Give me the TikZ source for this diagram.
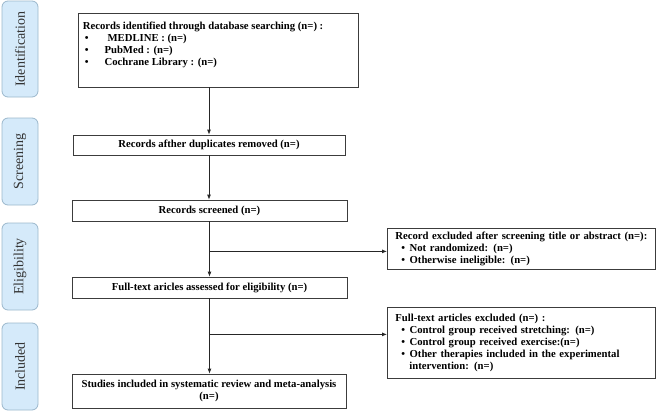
\documentclass[tikz,border=0pt]{standalone}
\usepackage{fontspec}
\setmainfont{Liberation Serif}
\usepackage{xcolor}
\usetikzlibrary{arrows.meta,positioning,calc}
\definecolor{phasefill}{HTML}{D5EAFA}
\definecolor{phasedraw}{HTML}{9BB7CC}
\definecolor{boxline}{HTML}{3C3C3C}
\newcommand{\pbul}{\hspace*{2pt}\textbullet\hspace{16pt}}
\newcommand{\xbul}{\hspace*{6pt}\textbullet\hspace{4.5pt}}

\begin{document}
\begin{tikzpicture}[x=1pt, y=-1pt,
        every node/.style={font=\fontsize{10.7}{12}\selectfont\bfseries},
        phase/.style={draw=phasedraw, fill=phasefill, rounded corners=6pt, rotate=90,
              minimum height=36pt, line width=0.8pt, text=black!80,
              font=\fontsize{14}{16}\selectfont},
        box/.style={draw=boxline, line width=0.8pt},
        arr/.style={-{Latex[length=5pt,width=4pt]}, line width=0.8pt, draw=black!85}]
        \useasboundingbox (0,0) rectangle (657,415);
        % phase labels
        \node[phase, minimum width=96pt] (lbident) at (20,49) {Identification};
        \node[phase, minimum width=87pt] (lbscreen) at (20,161.5) {Screening};
        \node[phase, minimum width=87pt] (lbelig) at (20,266.5) {Eligibility};
        \node[phase, minimum width=87pt] (lbincl) at (20,366.5) {Included};
        % main column
        \node[box, minimum width=280pt, minimum height=74pt] (recid) at (218,50) {};
        \node[anchor=north west, align=left, inner sep=0pt] (recidtxt)
              at ([xshift=5pt,yshift=-9.5pt]recid.north west)
              {Records identified through database searching (n=) :\\
               \pbul\hspace{3pt}MEDLINE : (n=)\\
               \pbul PubMed : (n=)\\
               \pbul Cochrane Library : (n=)};
        \node[box, minimum width=272pt, minimum height=20pt] (recdup) at (209,145)
              {Records afther duplicates removed (n=)};
        \node[box, minimum width=275pt, minimum height=21pt] (recscr) at (209.5,210.5)
              {Records screened (n=)};
        \node[box, minimum width=275pt, minimum height=21pt] (fulltxt) at (209.5,287.5)
              {Full-text aricles assessed for eligibility (n=)};
        \node[box, minimum width=274pt, minimum height=34pt, align=center] (studies) at (209,391)
              {Studies included in systematic review and meta-analysis\\(n=)};
        % exclusion boxes
        \node[box, anchor=north west, align=left, text width=252pt, inner xsep=8pt,
              minimum height=37pt] (exclscr) at (387,228)
              {Record excluded after screening title or abstract (n=):\\
               \xbul Not randomized: (n=)\\
               \xbul Otherwise ineligible: (n=)};
        \node[box, anchor=north west, align=left, text width=252pt, inner xsep=8pt,
              minimum height=71pt] (exclfull) at (387,307)
              {Full-text articles excluded (n=) :\\
               \xbul Control group received stretching: (n=)\\
               \xbul Control group received exercise:(n=)\\
               \xbul Other therapies included in the experimental\\
               \hspace*{14pt}intervention: (n=)};
        % connectors
        \draw[arr] (recid.south -| recdup.north) -- (recdup.north);
        \draw[arr] (recdup.south) -- (recdup.south |- recscr.north);
        \draw[arr] (recscr.south) -- (recscr.south |- fulltxt.north);
        \draw[arr] (fulltxt.south) -- (fulltxt.south |- studies.north);
        \path (recscr.south) ++(0,30) coordinate (brscr);
        \path (fulltxt.south) ++(0,36) coordinate (brfull);
        \draw[arr] (brscr) -- (brscr -| exclscr.west);
        \draw[arr] (brfull) -- (brfull -| exclfull.west);
    \end{tikzpicture}
\end{document}
